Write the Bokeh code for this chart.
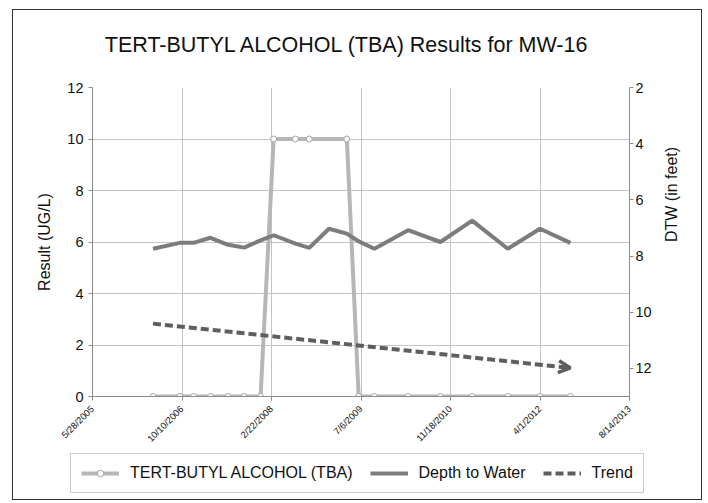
import math
import pandas as pd
from bokeh.plotting import figure
from bokeh.models import (Range1d, LinearAxis, FixedTicker, Legend, LegendItem,
                          Arrow, OpenHead, Label)
from bokeh.embed import file_html
from bokeh.resources import INLINE

# ---------------- data ----------------
title_text = "TERT-BUTYL ALCOHOL (TBA) Results for MW-16"
x_tick_labels = ["5/28/2005", "10/10/2006", "2/22/2008", "7/6/2009",
                 "11/18/2010", "4/1/2012", "8/14/2013"]
left_ticks = [0, 2, 4, 6, 8, 10, 12]
right_ticks = [2, 4, 6, 8, 10, 12]

tba_dates = ["2006-05-01", "2006-09-28", "2006-12-13", "2007-03-18", "2007-06-25",
             "2007-09-22", "2007-12-23", "2008-03-05", "2008-07-05", "2008-09-20",
             "2009-04-18", "2009-06-23", "2009-09-19", "2010-03-26", "2010-09-23",
             "2011-03-19", "2011-10-04", "2012-04-01", "2012-09-18"]
tba_values = [0, 0, 0, 0, 0, 0, 0, 10, 10, 10, 10, 0, 0, 0, 0, 0, 0, 0, 0]

dtw_dates = ["2006-05-01", "2006-09-28", "2006-12-13", "2007-03-18", "2007-06-25",
             "2007-09-22", "2007-12-23", "2008-03-05", "2008-07-05", "2008-09-20",
             "2009-01-08", "2009-04-18", "2009-06-23", "2009-09-19", "2010-03-26",
             "2010-09-23", "2011-03-19", "2011-10-04", "2012-04-01", "2012-09-18"]
dtw_values = [7.74, 7.53, 7.53, 7.35, 7.60, 7.70, 7.44, 7.26, 7.56, 7.71,
              7.03, 7.20, 7.48, 7.74, 7.08, 7.50, 6.74, 7.74, 7.03, 7.53]

trend_dates = ["2006-05-01", "2012-09-18"]
trend_values = [2.83, 1.11]

series_names = ["TERT-BUTYL ALCOHOL (TBA)", "Depth to Water", "Trend"]

# ---------------- styles ----------------
FONT = "Liberation Sans"
TBA_COLOR = "#b6b6b6"
TBA_MARK = "#a4a4a4"
DTW_COLOR = "#7c7c7c"
TREND_COLOR = "#5e5e5e"
BORDER = "1px solid #333333"
W = 690

def to_ms(seq):
    return [pd.Timestamp(d).value / 1e6 for d in seq]

tick_ms = to_ms(pd.to_datetime(x_tick_labels, format="%m/%d/%Y"))
tba_x = to_ms(tba_dates)
dtw_x = to_ms(dtw_dates)
trend_x = to_ms(trend_dates)

def blank_strip(height):
    f = figure(width=W, height=height, x_range=Range1d(0, 1),
               y_range=Range1d(-100, -99), output_backend="svg",
               toolbar_location=None, x_axis_location=None, y_axis_location=None,
               min_border_left=0, min_border_right=0,
               min_border_top=0, min_border_bottom=0)
    f.grid.visible = False
    f.outline_line_color = None
    f.background_fill_color = "white"
    f.border_fill_color = "white"
    return f

# ---------------- title strip ----------------
t = blank_strip(54)
t.add_layout(Label(x=334, y=20, x_units="screen", y_units="screen",
                   text=title_text, text_align="center",
                   text_baseline="middle", text_font=FONT,
                   text_font_size="21.5px", text_color="#111111"))
t.styles = {"border-left": BORDER, "border-top": BORDER, "border-right": BORDER,
            "margin-left": "12px", "margin-top": "9px"}

# ---------------- main chart ----------------
p = figure(width=W, height=389, x_axis_type="datetime",
           x_range=Range1d(tick_ms[0], tick_ms[-1]),
           y_range=Range1d(left_ticks[0], left_ticks[-1]),
           output_backend="svg", toolbar_location=None,
           min_border_left=79, min_border_right=74,
           min_border_top=24, min_border_bottom=56)
p.background_fill_color = "white"
p.border_fill_color = "white"
p.outline_line_color = None
p.styles = {"border-left": BORDER, "border-right": BORDER, "margin-left": "12px"}

p.extra_y_ranges = {"dtw": Range1d(13, 2)}

p.xaxis.ticker = FixedTicker(ticks=tick_ms)
p.xaxis.major_label_overrides = {tk: lab for tk, lab in zip(tick_ms, x_tick_labels)}
p.xaxis.major_label_orientation = math.pi / 4
p.xaxis.major_label_text_font_size = "9.3px"
p.xaxis.major_label_standoff = 7

p.yaxis.ticker = FixedTicker(ticks=left_ticks)
p.yaxis.axis_label = "Result (UG/L)"

rax = LinearAxis(y_range_name="dtw", ticker=FixedTicker(ticks=right_ticks),
                 axis_label="DTW (in feet)")
try:
    rax.axis_label_orientation = math.pi / 2
except Exception:
    pass
p.add_layout(rax, "right")

for ax in p.xaxis + p.yaxis + [rax]:
    ax.axis_line_color = "#8c8c8c"
    ax.major_tick_line_color = "#8c8c8c"
    ax.major_tick_in = 0
    ax.major_tick_out = 4
    ax.minor_tick_line_color = None
    ax.major_label_text_font = FONT
    ax.major_label_text_color = "#111111"
    ax.axis_label_text_font = FONT
    ax.axis_label_text_font_style = "normal"
    ax.axis_label_text_font_size = "16px"
    ax.axis_label_text_color = "#111111"
for ax in p.yaxis + [rax]:
    ax.major_label_text_font_size = "14.5px"
p.yaxis.major_label_standoff = 5
p.yaxis.axis_label_standoff = 11
rax.major_label_standoff = 2
rax.axis_label_standoff = 17

p.xgrid.grid_line_color = "#c4c4c4"
p.ygrid.grid_line_color = "#c4c4c4"

def draw_series(fig):
    r1 = fig.line(tba_x, tba_values, line_color=TBA_COLOR, line_width=4)
    r2 = fig.scatter(tba_x, tba_values, marker="circle", size=6,
                     fill_color="white", line_color=TBA_MARK, line_width=1)
    r3 = fig.line(dtw_x, dtw_values, y_range_name="dtw",
                  line_color=DTW_COLOR, line_width=4)
    r4 = fig.line(trend_x, trend_values, line_color=TREND_COLOR,
                  line_width=4, line_dash="8 4")
    return r1, r2, r3, r4

draw_series(p)
p.add_layout(Arrow(end=OpenHead(size=12, line_width=3.5, line_color=TREND_COLOR),
                   x_start=trend_x[0], y_start=trend_values[0],
                   x_end=trend_x[-1], y_end=trend_values[-1],
                   line_alpha=0))

# ---------------- legend strip ----------------
q = blank_strip(48)
q.extra_y_ranges = {"dtw": Range1d(-100, -99)}
l1, l2, l3, l4 = draw_series(q)
q.styles = {"border-left": BORDER, "border-right": BORDER,
            "border-bottom": BORDER, "margin-left": "12px"}

legend = Legend(items=[
    LegendItem(label=series_names[0], renderers=[l1, l2]),
    LegendItem(label=series_names[1], renderers=[l3]),
    LegendItem(label=series_names[2], renderers=[l4]),
], orientation="horizontal", location=(57, 7))
legend.label_text_font = FONT
legend.label_text_font_size = "16px"
legend.label_text_color = "#111111"
legend.border_line_color = "#9a9a9a"
legend.background_fill_color = "white"
legend.background_fill_alpha = 1
legend.glyph_width = 38
legend.glyph_height = 16
legend.label_height = 16
legend.label_standoff = 11
legend.spacing = 17
legend.padding = 10
legend.margin = 0
q.add_layout(legend)

open("out.html", "w").write(file_html([t, p, q], INLINE))
